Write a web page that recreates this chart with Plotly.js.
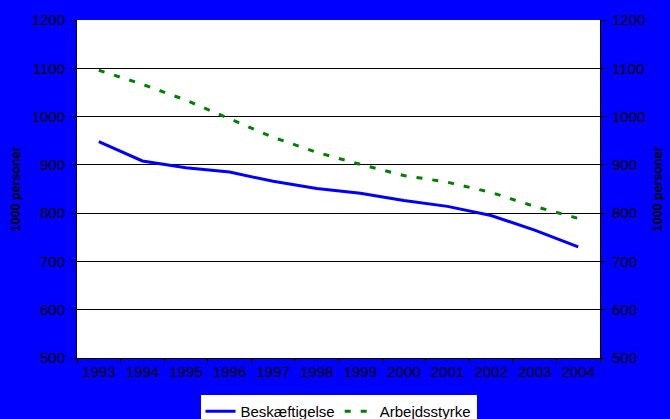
<!DOCTYPE html>
<html>
<head>
<meta charset="utf-8">
<script src="https://cdn.plot.ly/plotly-3.0.1.min.js"></script>
<style>html,body{margin:0;padding:0;background:#0000FF;overflow:hidden;}#chart{width:670px;height:419px;}</style>
</head>
<body>
<div id="chart"></div>
<script>
const years = ["1993","1994","1995","1996","1997","1998","1999","2000","2001","2002","2003","2004"];
const beskaeftigelse = [948, 908, 894, 885, 866, 851, 841, 826, 814, 795, 765, 730];
const arbejdsstyrke = [1096, 1067, 1034, 995, 957, 926, 901, 878, 864, 843, 814, 789];
const yTitle = "<b>1000 personer</b>";

const font = {family: "Liberation Sans, Arial, sans-serif", color: "#000000"};

const traces = [
  {x: years, y: beskaeftigelse, name: "Beskæftigelse", type: "scatter", mode: "lines",
   line: {color: "#0000FF", width: 3}},
  {x: years, y: arbejdsstyrke, name: "Arbejdsstyrke", type: "scatter", mode: "lines",
   line: {color: "#008000", width: 3, dash: "6px,10px"}},
  {x: years, y: beskaeftigelse, yaxis: "y2", type: "scatter", mode: "lines",
   line: {width: 0}, hoverinfo: "skip", showlegend: false, opacity: 0}
];

const yCommon = {
  range: [500, 1200], dtick: 100, tick0: 500,
  ticks: "outside", ticklen: 5, tickcolor: "#000", tickwidth: 1,
  showline: true, linecolor: "#000", linewidth: 1,
  tickfont: Object.assign({size: 15}, font),
  ticklabelstandoff: 3,
  zeroline: false
};

const layout = {
  width: 670, height: 419,
  paper_bgcolor: "#0000FF", plot_bgcolor: "#FFFFFF",
  margin: {l: 77, r: 70, t: 20, b: 61},
  font: font,
  showlegend: true,
  legend: {orientation: "h", xref: "paper", x: 0.5, xanchor: "center",
    yref: "container", y: 0.0573, yanchor: "top",
    bgcolor: "#FFFFFF", font: Object.assign({size: 15}, font), borderwidth: 0,
    tracegroupgap: 0, itemwidth: 30},
  xaxis: {
    type: "category", tickson: "boundaries", ticks: "outside", ticklen: 5, tickcolor: "#000",
    showline: true, linecolor: "#000", linewidth: 1, showgrid: false,
    tickfont: Object.assign({size: 15}, font), range: [-0.5, 11.5]
  },
  yaxis: Object.assign({}, yCommon, {
    showgrid: true, gridcolor: "#000000", gridwidth: 1,
    title: {text: yTitle, standoff: 8, font: Object.assign({size: 12.5, weight: 700}, font)}
  }),
  yaxis2: Object.assign({}, yCommon, {
    overlaying: "y", side: "right", showgrid: false,
    title: {text: yTitle, standoff: 8, font: Object.assign({size: 12.5, weight: 700}, font)}
  })
};

Plotly.newPlot("chart", traces, layout, {displayModeBar: false, staticPlot: true});
</script>
</body>
</html>
